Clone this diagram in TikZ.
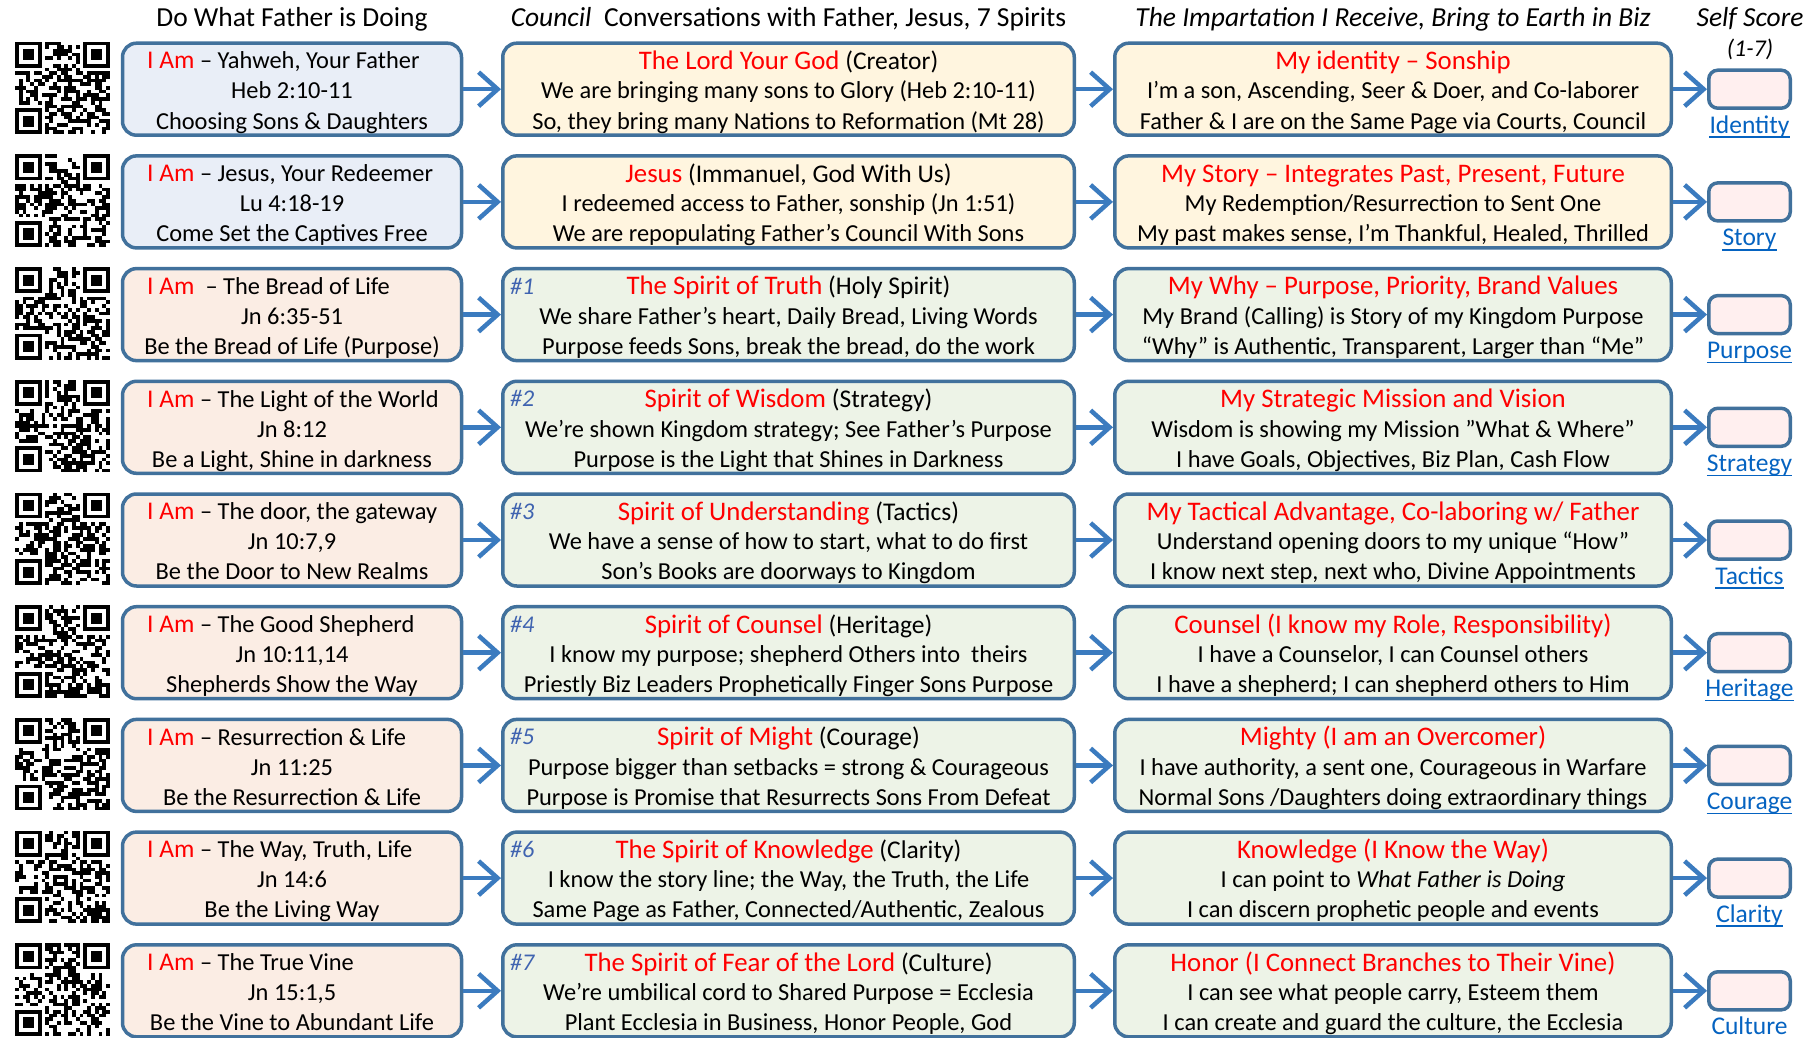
\documentclass[tikz,border=0pt]{standalone}
\usepackage{fontspec}
\setmainfont{Carlito}
\usetikzlibrary{arrows.meta}
\definecolor{bord}{HTML}{41719C}
\definecolor{arr}{HTML}{3B7BBF}
\definecolor{fblue}{HTML}{E9EEF7}
\definecolor{fpeach}{HTML}{FBEDE4}
\definecolor{fcream}{HTML}{FFF5DF}
\definecolor{fgreen}{HTML}{EDF3E7}
\definecolor{fpink}{HTML}{FFEFEF}
\definecolor{redt}{HTML}{FF0000}
\definecolor{linkc}{HTML}{0563C1}
\definecolor{numc}{HTML}{3F63B0}
\newcommand\redtx[1]{{\fontsize{26.8}{28}\selectfont\textcolor{redt}{#1}}}
\newcommand\iam{{\fontsize{25.5}{28}\selectfont\textcolor{redt}{I Am}}}
\tikzset{
  box/.style={draw=bord, line width=3.5pt, rounded corners=14pt, inner sep=0pt},
  txt/.style={inner sep=0pt, font=\fontsize{24.4}{28}\selectfont, anchor=base},
  txtone/.style={inner sep=0pt, font=\fontsize{25.5}{28}\selectfont, anchor=base},
  hdr/.style={inner sep=0pt, font=\fontsize{27.5}{32}\selectfont, anchor=base},
  conn/.style={draw=arr, line width=4.5pt, -{Straight Barb[length=19pt,width=34pt]}},
  numtx/.style={inner sep=0pt, font=\fontsize{24}{26}\selectfont\itshape, text=numc, anchor=base west},
  lnk/.style={inner sep=0pt, font=\fontsize{25.5}{28}\selectfont, text=linkc, anchor=base},
}
\newcommand\mkQR[1]{%
  \pgfmathsetmacro\qrtop{41.7+(#1-1)*112.7}%
  \pgfmathtruncatemacro\qseed{#1*137+11}%
  \pgfmathsetseed{\qseed}%
  \begin{scope}[shift={(15,\qrtop)}]
    \foreach \r in {0,...,24}{\foreach \c in {0,...,24}{%
      \pgfmathtruncatemacro\infind{((\r<8)&&(\c<8))||((\r<8)&&(\c>16))||((\r>16)&&(\c<8))}%
      \ifnum\infind=0
        \pgfmathtruncatemacro\onmod{rnd<0.5}%
        \ifnum\onmod=1 \fill (\c*3.8,\r*3.7) rectangle ++(3.8,3.7);\fi
      \fi}}
    \foreach \fx/\fy in {0/0,18/0,0/18}{%
      \fill (\fx*3.8,\fy*3.7) rectangle ++(7*3.8,7*3.7);
      \fill[white] (\fx*3.8+3.8,\fy*3.7+3.7) rectangle ++(5*3.8,5*3.7);
      \fill (\fx*3.8+7.6,\fy*3.7+7.4) rectangle ++(3*3.8,3*3.7);}
  \end{scope}}
\newcommand\mkRowA[5]{%
  \pgfmathsetmacro\rowtop{41.7+(#1-1)*112.7}%
  \node[box, fill=#2, minimum width=339pt, minimum height=92pt] (a#1) at (292,\rowtop+47.5) {};
  \node[txt, anchor=base west] (a#1l1) at (147,\rowtop+27.3) {#3};
  \node[txt] (a#1l2) at (292,\rowtop+57.3) {#4};
  \node[txt] (a#1l3) at (292,\rowtop+87.3) {#5};
}
\newcommand\mkRowB[6]{%
  \pgfmathsetmacro\rowtop{41.7+(#1-1)*112.7}%
  \node[box, fill=#2, minimum width=571.5pt, minimum height=92pt] (b#1) at (788.5,\rowtop+47.5) {};
  \if\relax\detokenize{#3}\relax\else
    \node[numtx] (n#1) at (510,\rowtop+27) {#3};
  \fi
  \node[txtone] (b#1l1) at (788.5,\rowtop+27.8) {#4};
  \node[txt] (b#1l2) at (788.5,\rowtop+57.3) {#5};
  \node[txt] (b#1l3) at (788.5,\rowtop+87.3) {#6};
}
\newcommand\mkRowC[6]{%
  \pgfmathsetmacro\rowtop{41.7+(#1-1)*112.7}%
  \node[box, fill=#2, minimum width=556.5pt, minimum height=92pt] (c#1) at (1393,\rowtop+47.5) {};
  \node[txtone] (c#1l1) at (1393,\rowtop+27.8) {#3};
  \node[txt] (c#1l2) at (1393,\rowtop+57.3) {#4};
  \node[txt] (c#1l3) at (1393,\rowtop+87.3) {#5};
  \node[box, fill=fpink, rounded corners=9pt, minimum width=81.5pt, minimum height=38pt] (s#1) at (1749.5,\rowtop+47.5) {};
  \node[lnk] (l#1) at (1749.5,\rowtop+91.5) {#6};
  \draw[linkc, line width=1.4pt] ([yshift=-4pt]l#1.base west) -- ([yshift=-4pt]l#1.base east);
  \draw[conn] (a#1) -- (b#1);
  \draw[conn] (b#1) -- (c#1);
  \draw[conn] (c#1) -- (s#1);
}
\begin{document}
\begin{tikzpicture}[x=1pt,y=-1pt]
\useasboundingbox (0,0) rectangle (1814,1038);
\clip (0,0) rectangle (1814,1038);
\fill[white] (0,0) rectangle (1814,1038);
% headers
\node[hdr] (h1) at (292,27) {Do What Father is Doing};
\node[hdr] (h2) at (788.5,27) {\textit{Council}\ \ Conversations with Father, Jesus, 7 Spirits};
\node[hdr] (h3) at (1393,27) {\textit{The Impartation I Receive, Bring to Earth in Biz}};
\node[hdr] (h4) at (1750,27) {\textit{Self Score}};
\node[hdr, font=\fontsize{24}{28}\selectfont] (h5) at (1750,57) {\textit{(1-7)}};
% QR codes
\foreach \q in {1,...,9}{\mkQR{\q}}
% rows
\mkRowA{1}{fblue}{\iam{} – Yahweh, Your Father}{Heb 2:10-11}{Choosing Sons \& Daughters}
\mkRowB{1}{fcream}{}{\redtx{The Lord Your God} (Creator)}{We are bringing many sons to Glory (Heb 2:10-11)}{So, they bring many Nations to Reformation (Mt 28)}
\mkRowC{1}{fcream}{\redtx{My identity – Sonship}}{I’m a son, Ascending, Seer \& Doer, and Co-laborer}{Father \& I are on the Same Page via Courts, Council}{Identity}

\mkRowA{2}{fblue}{\iam{} – Jesus, Your Redeemer}{Lu 4:18-19}{Come Set the Captives Free}
\mkRowB{2}{fcream}{}{\redtx{Jesus} (Immanuel, God With Us)}{I redeemed access to Father, sonship (Jn 1:51)}{We are repopulating Father’s Council With Sons}
\mkRowC{2}{fcream}{\redtx{My Story – Integrates Past, Present, Future}}{My Redemption/Resurrection to Sent One}{My past makes sense, I’m Thankful, Healed, Thrilled}{Story}

\mkRowA{3}{fpeach}{\iam\ \ – The Bread of Life}{Jn 6:35-51}{Be the Bread of Life (Purpose)}
\mkRowB{3}{fgreen}{\#1}{\redtx{The Spirit of Truth} (Holy Spirit)}{We share Father’s heart, Daily Bread, Living Words}{Purpose feeds Sons, break the bread, do the work}
\mkRowC{3}{fgreen}{\redtx{My Why – Purpose, Priority, Brand Values}}{My Brand (Calling) is Story of my Kingdom Purpose}{“Why” is Authentic, Transparent, Larger than “Me”}{Purpose}

\mkRowA{4}{fpeach}{\iam{} – The Light of the World}{Jn 8:12}{Be a Light, Shine in darkness}
\mkRowB{4}{fgreen}{\#2}{\redtx{Spirit of Wisdom} (Strategy)}{We’re shown Kingdom strategy; See Father’s Purpose}{Purpose is the Light that Shines in Darkness}
\mkRowC{4}{fgreen}{\redtx{My Strategic Mission and Vision}}{Wisdom is showing my Mission ”What \& Where”}{I have Goals, Objectives, Biz Plan, Cash Flow}{Strategy}

\mkRowA{5}{fpeach}{\iam{} – The door, the gateway}{Jn 10:7,9}{Be the Door to New Realms}
\mkRowB{5}{fgreen}{\#3}{\redtx{Spirit of Understanding} (Tactics)}{We have a sense of how to start, what to do first}{Son’s Books are doorways to Kingdom}
\mkRowC{5}{fgreen}{\redtx{My Tactical Advantage, Co-laboring w/ Father}}{Understand opening doors to my unique “How”}{I know next step, next who, Divine Appointments}{Tactics}

\mkRowA{6}{fpeach}{\iam{} – The Good Shepherd}{Jn 10:11,14}{Shepherds Show the Way}
\mkRowB{6}{fgreen}{\#4}{\redtx{Spirit of Counsel} (Heritage)}{I know my purpose; shepherd Others into\ \ theirs}{Priestly Biz Leaders Prophetically Finger Sons Purpose}
\mkRowC{6}{fgreen}{\redtx{Counsel (I know my Role, Responsibility)}}{I have a Counselor, I can Counsel others}{I have a shepherd; I can shepherd others to Him}{Heritage}

\mkRowA{7}{fpeach}{\iam{} – Resurrection \& Life}{Jn 11:25}{Be the Resurrection \& Life}
\mkRowB{7}{fgreen}{\#5}{\redtx{Spirit of Might} (Courage)}{Purpose bigger than setbacks = strong \& Courageous}{Purpose is Promise that Resurrects Sons From Defeat}
\mkRowC{7}{fgreen}{\redtx{Mighty (I am an Overcomer)}}{I have authority, a sent one, Courageous in Warfare}{Normal Sons /Daughters doing extraordinary things}{Courage}

\mkRowA{8}{fpeach}{\iam{} – The Way, Truth, Life}{Jn 14:6}{Be the Living Way}
\mkRowB{8}{fgreen}{\#6}{\redtx{The Spirit of Knowledge} (Clarity)}{I know the story line; the Way, the Truth, the Life}{Same Page as Father, Connected/Authentic, Zealous}
\mkRowC{8}{fgreen}{\redtx{Knowledge (I Know the Way)}}{I can point to \textit{What Father is Doing}}{I can discern prophetic people and events}{Clarity}

\mkRowA{9}{fpeach}{\iam{} – The True Vine}{Jn 15:1,5}{Be the Vine to Abundant Life}
\mkRowB{9}{fgreen}{\#7}{\redtx{The Spirit of Fear of the Lord} (Culture)}{We’re umbilical cord to Shared Purpose = Ecclesia}{Plant Ecclesia in Business, Honor People, God}
\mkRowC{9}{fgreen}{\redtx{Honor (I Connect Branches to Their Vine)}}{I can see what people carry, Esteem them}{I can create and guard the culture, the Ecclesia}{Culture}
\end{tikzpicture}
\end{document}
